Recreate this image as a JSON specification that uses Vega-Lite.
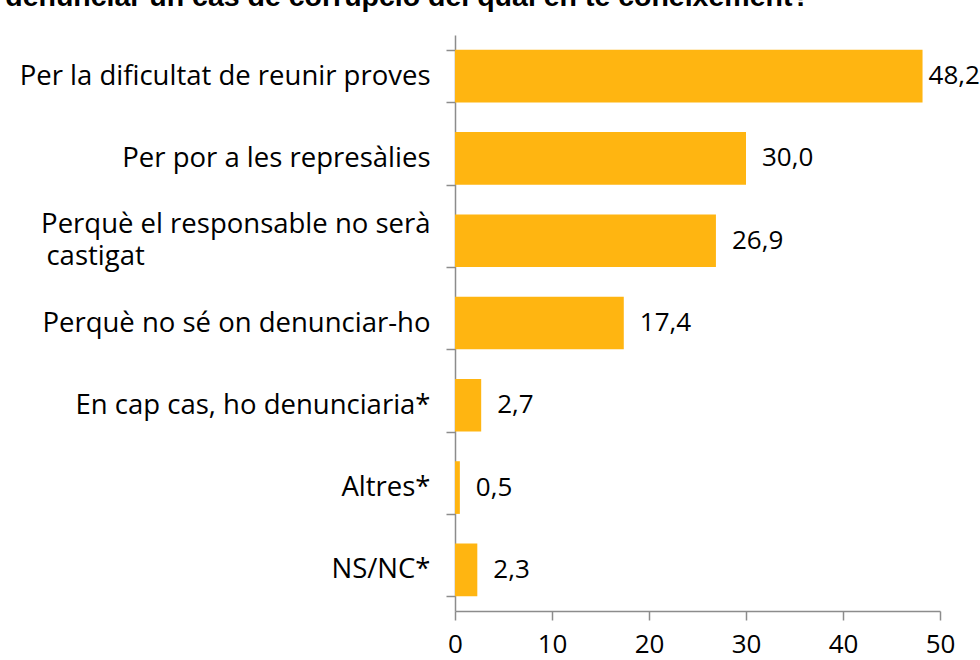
{
  "$schema": "https://vega.github.io/schema/vega-lite/v6.json",
  "autosize": "none",
  "width": 485,
  "height": 576,
  "padding": {"left": 455, "top": 35, "right": 40, "bottom": 49},
  "background": "white",
  "title": {
    "text": "denunciar un cas de corrupció del qual en té coneixement?",
    "anchor": "start",
    "frame": "bounds",
    "font": "Liberation Sans",
    "fontSize": 28.5,
    "fontWeight": "bold",
    "color": "#000000",
    "offset": 10,
    "dx": -14
  },
  "config": {
    "locale": {"number": {"decimal": ",", "thousands": ".", "grouping": [3], "currency": ["", " €"]}},
    "view": {"stroke": null},
    "font": "Open Sans"
  },
  "data": {
    "values": [
      {"motiu": "Per la dificultat de reunir proves", "pct": 48.2},
      {"motiu": "Per por a les represàlies", "pct": 30.0},
      {"motiu": "Perquè el responsable no serà castigat", "pct": 26.9},
      {"motiu": "Perquè no sé on denunciar-ho", "pct": 17.4},
      {"motiu": "En cap cas, ho denunciaria*", "pct": 2.7},
      {"motiu": "Altres*", "pct": 0.5},
      {"motiu": "NS/NC*", "pct": 2.3}
    ]
  },
  "encoding": {
    "y": {
      "field": "motiu",
      "type": "nominal",
      "sort": null,
      "scale": {"paddingInner": 0.36, "paddingOuter": 0.18},
      "axis": {
        "title": null,
        "tickBand": "extent",
        "domainColor": "#8c8c8c",
        "tickColor": "#8c8c8c",
        "domainWidth": 1.5,
        "tickWidth": 1.5,
        "tickSize": 9,
        "labelFontSize": 27.5,
        "labelColor": "#000000",
        "labelPadding": 16,
        "labelLimit": 600,
        "labelLineHeight": 32,
        "labelOffset": {"condition": {"test": "datum.value == 'Perquè el responsable no serà castigat'", "value": -16}, "value": 0},
        "labelExpr": "datum.value == 'Perquè el responsable no serà castigat' ? ['Perquè el responsable no serà', pad('castigat', 48, '\u00a0') + '\u200b'] : datum.value"
      }
    },
    "x": {
      "field": "pct",
      "type": "quantitative",
      "scale": {"domain": [0, 50], "nice": false},
      "axis": {
        "title": null,
        "values": [0, 10, 20, 30, 40, 50],
        "grid": false,
        "domainColor": "#8c8c8c",
        "tickColor": "#8c8c8c",
        "domainWidth": 1.5,
        "tickWidth": 1.5,
        "tickSize": 9,
        "labelFontSize": 26,
        "labelColor": "#000000",
        "labelPadding": 11,
        "labelFlush": false
      }
    }
  },
  "layer": [
    {"mark": {"type": "bar", "color": "#FFB511"}},
    {
      "transform": [{"filter": "datum.pct < 45"}],
      "mark": {"type": "text", "align": "left", "baseline": "middle", "dx": 16, "fontSize": 26, "color": "#000000"},
      "encoding": {"text": {"field": "pct", "type": "quantitative", "format": ".1f"}}
    },
    {
      "transform": [{"filter": "datum.pct >= 45"}],
      "mark": {"type": "text", "align": "left", "baseline": "middle", "dx": 6, "fontSize": 26, "color": "#000000"},
      "encoding": {"text": {"field": "pct", "type": "quantitative", "format": ".1f"}}
    }
  ]
}
